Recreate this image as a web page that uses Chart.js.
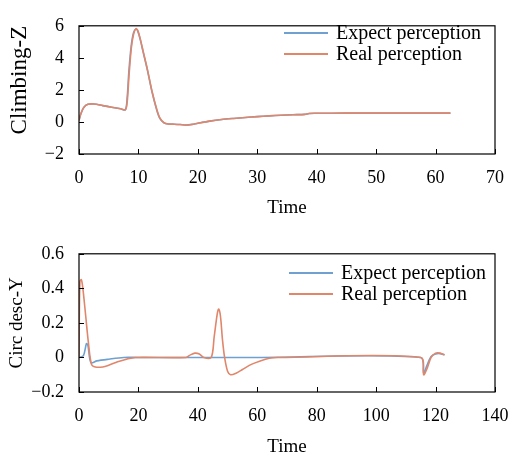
<!DOCTYPE html>
<html>
<head>
<meta charset="utf-8">
<script src="https://cdn.jsdelivr.net/npm/chart.js@4.4.1/dist/chart.umd.min.js"></script>
<style>
  html, body { margin: 0; padding: 0; background: #fff; overflow: hidden; }
  .box { position: absolute; left: 0; width: 508px; }
  #top { top: 0; height: 228px; }
  #bottom { top: 228px; height: 235px; }
</style>
</head>
<body>
<div class="box" id="top"><canvas id="chartZ"></canvas></div>
<div class="box" id="bottom"><canvas id="chartY"></canvas></div>
<script>
const seriesNames = ['Expect perception', 'Real perception'];

// Climbing-Z
const timeZ = [0, 0.3, 0.8, 1.5, 2.5, 4, 5.5, 7, 7.8, 8.1, 8.4, 8.8, 9.2, 9.6, 9.9, 10.3, 10.8, 11.5, 12.3, 13.0, 13.6, 14.3, 15, 16, 17, 18, 19, 20, 22, 24, 26, 28, 30, 32, 34, 36, 38, 38.7, 40, 45, 50, 55, 60, 62.5];
const expectZ = [0.1, 0.5, 0.9, 1.1, 1.12, 1.02, 0.92, 0.82, 0.76, 1.5, 3.2, 4.8, 5.6, 5.8, 5.65, 5.15, 4.35, 3.25, 1.85, 0.85, 0.22, -0.06, -0.13, -0.14, -0.16, -0.19, -0.15, -0.08, 0.05, 0.15, 0.22, 0.28, 0.33, 0.38, 0.42, 0.45, 0.47, 0.53, 0.54, 0.55, 0.55, 0.55, 0.55, 0.55];
const realZ = [0.1, 0.5, 0.9, 1.1, 1.12, 1.02, 0.92, 0.82, 0.76, 1.2, 2.8, 4.6, 5.5, 5.82, 5.7, 5.2, 4.4, 3.3, 1.9, 0.9, 0.25, -0.05, -0.13, -0.14, -0.16, -0.2, -0.16, -0.08, 0.05, 0.15, 0.22, 0.28, 0.33, 0.38, 0.42, 0.45, 0.47, 0.53, 0.54, 0.55, 0.55, 0.55, 0.55, 0.55];

// Circ desc-Y
const timeExpectY = [0, 1.5, 2.5, 3, 4, 6, 10, 15, 20, 60, 115, 116, 117, 118.5, 120, 121.5, 123];
const expectY = [0, 0.01, 0.08, 0.07, -0.03, -0.02, -0.01, 0, 0, 0, 0, -0.09, -0.05, 0.005, 0.02, 0.022, 0.015];
const timeRealY = [0, 0.3, 0.8, 1.3, 2.2, 3.2, 4.2, 5.5, 8, 10, 13, 16, 19, 36, 37.5, 39, 40.5, 42, 44.5, 45.5, 46.5, 47, 47.6, 48.3, 49, 50, 51, 53, 55, 58, 61, 64, 67, 115, 116, 117, 118.5, 120, 121.5, 123];
const realY = [0, 0.44, 0.45, 0.40, 0.25, 0.08, -0.04, -0.055, -0.055, -0.045, -0.025, -0.01, 0, 0, 0.015, 0.025, 0.02, 0, 0, 0.12, 0.25, 0.28, 0.24, 0.1, 0, -0.08, -0.1, -0.09, -0.07, -0.04, -0.02, -0.005, 0, 0, -0.1, -0.07, 0, 0.025, 0.025, 0.015];

const colors = ['#70a0d0', '#e0866a'];
const serif = '"Liberation Serif", "Times New Roman", serif';

function points(xs, ys) {
  return xs.map((x, i) => ({ x: x, y: ys[i] }));
}

// frame, inward ticks and in-plot legend
const framePlugin = {
  id: 'frame',
  afterDraw(chart, args, opts) {
    const c = chart.ctx;
    const a = chart.chartArea;
    c.save();
    c.strokeStyle = '#000';
    c.lineWidth = 1.2;
    c.strokeRect(a.left, a.top, a.right - a.left, a.bottom - a.top);
    c.lineWidth = 1;
    const xs = chart.scales.x, ys = chart.scales.y;
    c.beginPath();
    xs.ticks.forEach(t => {
      const px = Math.round(xs.getPixelForValue(t.value)) + 0.5;
      c.moveTo(px, a.bottom);
      c.lineTo(px, a.bottom - 5);
    });
    ys.ticks.forEach(t => {
      const py = Math.round(ys.getPixelForValue(t.value)) + 0.5;
      c.moveTo(a.left, py);
      c.lineTo(a.left + 5, py);
    });
    c.stroke();

    c.font = '20px ' + serif;
    c.textBaseline = 'middle';
    c.fillStyle = '#000';
    chart.data.datasets.forEach((ds, i) => {
      const y = opts.y + i * opts.gap;
      c.strokeStyle = ds.borderColor;
      c.lineWidth = 2;
      c.beginPath();
      c.moveTo(opts.x, y);
      c.lineTo(opts.x + 44, y);
      c.stroke();
      c.fillText(ds.label, opts.x + 52, y + 1);
    });
    c.restore();
  }
};

function makeChart(id, sets, xMax, xStep, yMin, yMax, yStep, yTitle, yTitleSize, yTitleAlign, padTop, xHeight, titlePad, legendPos, yDecimals) {
  return new Chart(document.getElementById(id), {
    type: 'scatter',
    data: {
      datasets: sets.map((s, i) => ({
        label: seriesNames[i],
        data: s,
        showLine: true,
        borderColor: colors[i],
        backgroundColor: colors[i],
        borderWidth: 1.6,
        pointRadius: 0,
        tension: 0.3,
        order: 1 - i
      }))
    },
    options: {
      responsive: true,
      maintainAspectRatio: false,
      animation: false,
      layout: { padding: { left: 0, right: 13, top: padTop, bottom: 0 } },
      plugins: {
        legend: { display: false },
        tooltip: { enabled: false },
        frame: legendPos
      },
      scales: {
        x: {
          type: 'linear',
          min: 0, max: xMax,
          grid: { display: false, drawTicks: false },
          border: { display: false },
          ticks: { stepSize: xStep, padding: 13, color: '#000', font: { family: serif, size: 18 } },
          title: { display: true, text: 'Time', color: '#000', padding: { top: 0, bottom: titlePad }, font: { family: serif, size: 19 } },
          afterFit: s => { s.height = xHeight; s.paddingLeft = 0; s.paddingRight = 0; }
        },
        y: {
          min: yMin, max: yMax,
          grid: { display: false, drawTicks: false },
          border: { display: false },
          ticks: {
            stepSize: yStep, padding: 15, color: '#000', font: { family: serif, size: 18 },
            callback: v => (v === 0 ? '0' : (yDecimals ? v.toFixed(yDecimals) : String(v))).replace('-', '\u2212')
          },
          title: { display: true, text: yTitle, align: yTitleAlign, color: '#000', padding: { top: 6, bottom: 4 }, font: { family: serif, size: yTitleSize } },
          afterFit: s => { s.width = 79; }
        }
      }
    },
    plugins: [framePlugin]
  });
}

makeChart('chartZ', [points(timeZ, expectZ), points(timeZ, realZ)], 70, 10, -2, 6, 2, 'Climbing-Z', 23, 'end', 14, 74, 9, { x: 284, y: 33, gap: 21 }, 0);
makeChart('chartY', [points(timeExpectY, expectY), points(timeRealY, realY)], 140, 20, -0.2, 0.6, 0.2, 'Circ desc-Y', 19, 'center', 24, 71, 5, { x: 289, y: 45, gap: 21 }, 1);
</script>
</body>
</html>
